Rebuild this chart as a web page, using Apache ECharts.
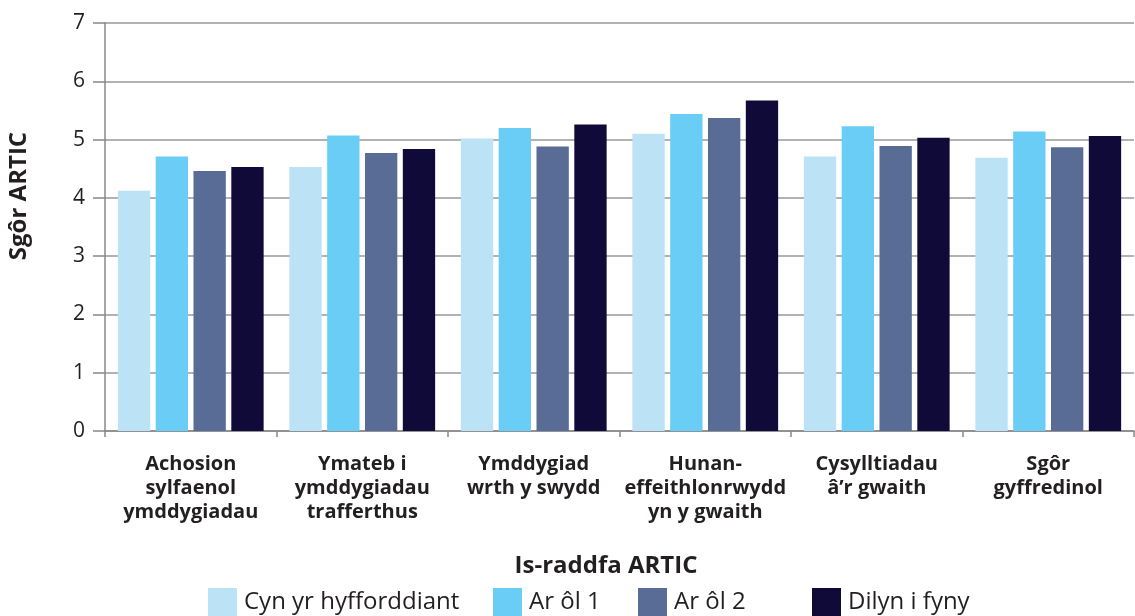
<!DOCTYPE html>
<html>
<head>
<meta charset="utf-8">
<script src="https://cdn.jsdelivr.net/npm/echarts@6/dist/echarts.min.js"></script>
<style>
html,body{margin:0;padding:0;background:#fff;}
#c{width:1135px;height:616px;}
</style>
</head>
<body>
<div id="c"></div>
<script>
const categories = [
  "Achosion\nsylfaenol\nymddygiadau",
  "Ymateb i\nymddygiadau\ntrafferthus",
  "Ymddygiad\nwrth y swydd",
  "Hunan-\neffeithlonrwydd\nyn y gwaith",
  "Cysylltiadau\nâ’r gwaith",
  "Sgôr\ngyffredinol"
];
const seriesNames = ["Cyn yr hyfforddiant", "Ar ôl 1", "Ar ôl 2", "Dilyn i fyny"];
const cynYrHyfforddiant = [4.12, 4.53, 5.02, 5.10, 4.71, 4.69];
const arOl1 = [4.71, 5.07, 5.20, 5.44, 5.23, 5.14];
const arOl2 = [4.46, 4.77, 4.88, 5.37, 4.89, 4.87];
const dilynIFyny = [4.53, 4.84, 5.26, 5.67, 5.03, 5.06];
const yTicks = [0, 1, 2, 3, 4, 5, 6, 7];
const colors = ["#BBE2F5", "#69CDF5", "#596C95", "#100A38"];
const values = [cynYrHyfforddiant, arOl1, arOl2, dilynIFyny];

const font = "'Open Sans', 'Noto Sans', sans-serif";
const textColor = "#231F20";
const chart = echarts.init(document.getElementById('c'));

const legendLefts = [208, 493, 638, 812];
const legends = seriesNames.map((n, i) => ({
  data: [n],
  left: legendLefts[i],
  top: 588,
  padding: 0,
  itemWidth: 29,
  itemHeight: 29,
  itemGap: 0,
  icon: 'rect',
  selectedMode: false,
  textStyle: { fontFamily: font, fontSize: 24, color: textColor, padding: [0, 0, 0, 2] }
}));

chart.setOption({
  animation: false,
  color: colors,
  textStyle: { fontFamily: font },
  grid: { left: 105, right: 1, top: 23, bottom: 185, containLabel: false },
  legend: legends,
  xAxis: {
    type: 'category',
    data: categories,
    axisLine: { lineStyle: { color: '#888', width: 1.5 } },
    axisTick: { show: true, length: 6, lineStyle: { color: '#888', width: 1.5 } },
    axisLabel: {
      fontFamily: font, fontSize: 20, fontWeight: 'bold', color: textColor,
      lineHeight: 24, margin: 21, interval: 0
    }
  },
  yAxis: {
    type: 'value',
    min: 0, max: 7, interval: 1,
    axisLine: { show: true, lineStyle: { color: '#888', width: 1.5 } },
    axisTick: { show: true, length: 12, lineStyle: { color: '#888', width: 1.5 } },
    splitLine: { lineStyle: { color: '#999', width: 1.5 } },
    axisLabel: {
      fontFamily: font, fontSize: 21, color: textColor, margin: 20,
      formatter: v => yTicks.includes(v) ? String(v) : ''
    }
  },
  graphic: [
    {
      type: 'text', x: 19, y: 196, rotation: Math.PI / 2,
      style: { text: 'Sgôr ARTIC', font: "bold 24px 'Open Sans', sans-serif", fill: textColor, align: 'center', verticalAlign: 'middle' }
    },
    {
      type: 'text', x: 606, y: 566,
      style: { text: 'Is-raddfa ARTIC', font: "bold 24px 'Open Sans', sans-serif", fill: textColor, align: 'center', verticalAlign: 'middle' }
    }
  ],
  series: seriesNames.map((n, i) => ({
    name: n,
    type: 'bar',
    data: values[i],
    barGap: '17%',
    barCategoryGap: '15%',
    itemStyle: { color: colors[i] }
  }))
});
</script>
</body>
</html>
